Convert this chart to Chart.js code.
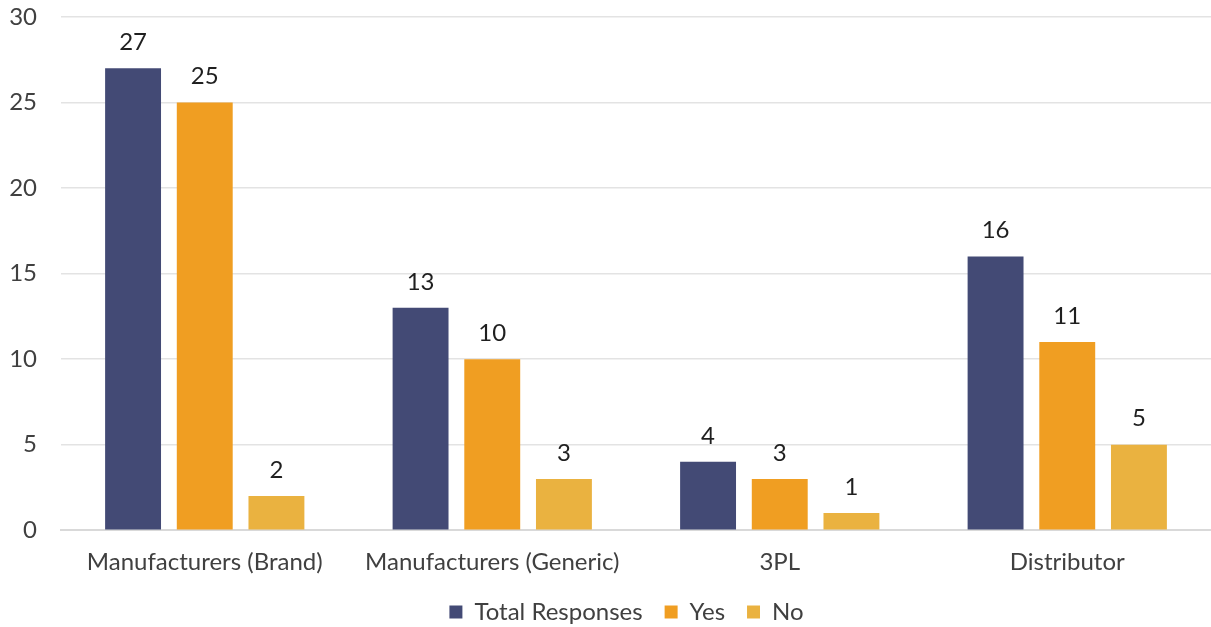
<!DOCTYPE html>
<html>
<head>
<meta charset="utf-8">
<script src="https://cdn.jsdelivr.net/npm/chart.js@4/dist/chart.umd.min.js"></script>
<style>
  html, body { margin: 0; padding: 0; background: #fff; }
  #wrap { width: 1211px; height: 627px; }
</style>
</head>
<body>
<div id="wrap"><canvas id="respChart" width="1211" height="627"></canvas></div>
<script>
const categories = ['Manufacturers (Brand)', 'Manufacturers (Generic)', '3PL', 'Distributor'];
const totalResponses = [27, 13, 4, 16];
const yesResponses = [25, 10, 3, 11];
const noResponses = [2, 3, 1, 5];
const yTicks = [0, 5, 10, 15, 20, 25, 30];

const FONT = 'Lato, "Open Sans", sans-serif';

// writes the value above each bar
const barValues = {
    id: 'barValues',
    afterDatasetsDraw(chart) {
        const ctx = chart.ctx;
        ctx.save();
        ctx.font = '24px ' + FONT;
        ctx.fillStyle = '#1F1F1F';
        ctx.textAlign = 'center';
        ctx.textBaseline = 'middle';
        chart.data.datasets.forEach((ds, i) => {
            chart.getDatasetMeta(i).data.forEach((bar, j) => {
                ctx.fillText(ds.data[j], bar.x, bar.y - 26);
            });
        });
        ctx.restore();
    }
};

// keep wide gaps between legend items but make the legend box shorter,
// and centre it under the plot area rather than the canvas
const tightLegend = {
    id: 'tightLegend',
    beforeLayout(chart) {
        const lg = chart.legend;
        if (!lg || lg._tight) return;
        const fit = lg.fit;
        lg.fit = function () {
            fit.call(this);
            this.height -= 16;
        };
        lg._tight = true;
    },
    afterLayout(chart) {
        const lg = chart.legend;
        if (!lg) return;
        lg.top -= 9;
        lg.left += 21;
        lg.right += 21;
    }
};

new Chart(document.getElementById('respChart'), {
    type: 'bar',
    data: {
        labels: categories,
        datasets: [
            { label: 'Total Responses', data: totalResponses, backgroundColor: '#434A75' },
            { label: 'Yes', data: yesResponses, backgroundColor: '#F09E22' },
            { label: 'No', data: noResponses, backgroundColor: '#EAB240' }
        ]
    },
    options: {
        responsive: false,
        animation: false,
        categoryPercentage: 0.748,
        barPercentage: 0.78,
        layout: { padding: { top: 17, right: 0, bottom: 0, left: 0 } },
        plugins: {
            legend: {
                position: 'bottom',
                labels: {
                    boxWidth: 13,
                    boxHeight: 13,
                    padding: 22,
                    color: '#404040',
                    font: { family: FONT, size: 24 }
                }
            },
            tooltip: { enabled: false }
        },
        scales: {
            x: {
                grid: { display: false },
                border: { color: '#D9D9D9', width: 2 },
                ticks: { color: '#404040', padding: 10, font: { family: FONT, size: 24 } }
            },
            y: {
                min: 0,
                max: 30,
                afterBuildTicks: axis => { axis.ticks = yTicks.map(v => ({ value: v })); },
                afterFit: axis => {
                    axis.width = 61;
                    axis.paddingTop = 0;
                    axis.paddingBottom = 0;
                },
                grid: { color: '#E3E3E3', lineWidth: 1.5, drawTicks: false },
                border: { display: false },
                ticks: { color: '#404040', padding: 24, font: { family: FONT, size: 24 } }
            }
        }
    },
    plugins: [barValues, tightLegend]
});
</script>
</body>
</html>
